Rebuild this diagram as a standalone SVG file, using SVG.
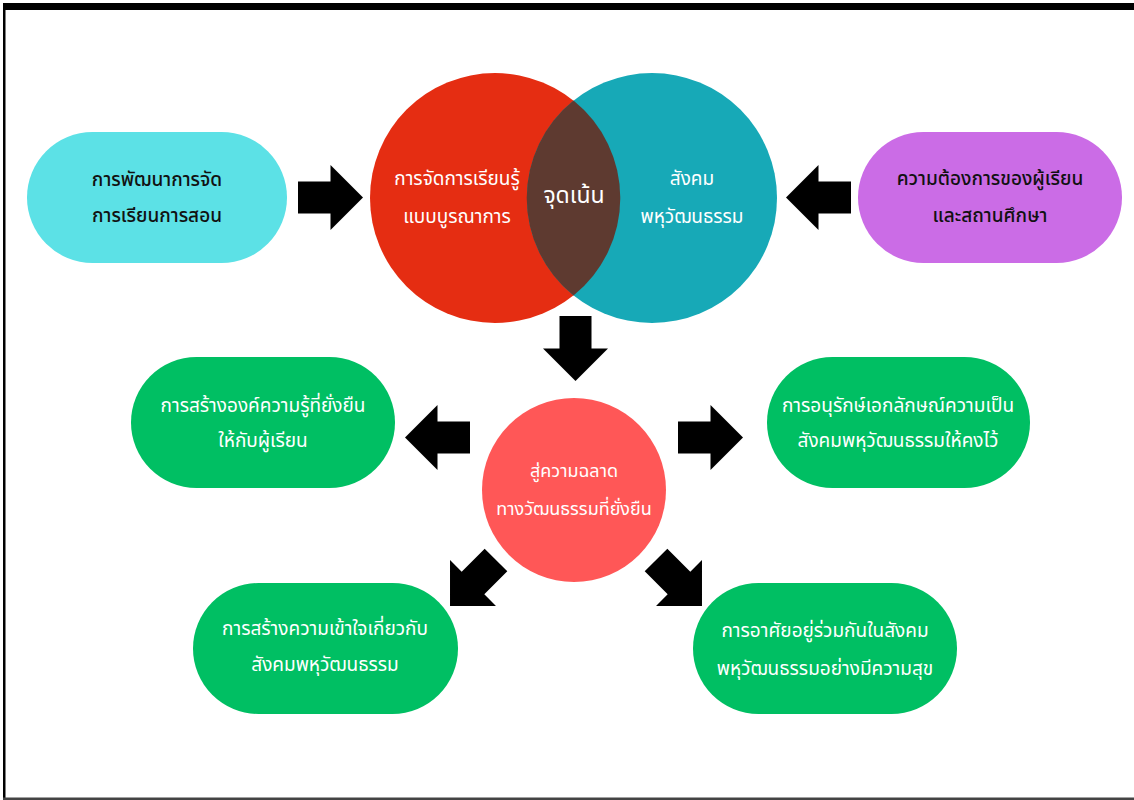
<svg xmlns="http://www.w3.org/2000/svg" width="1134" height="800" viewBox="0 0 1134 800">
<style>
  .t { font-family: "Noto Sans Thai", "Tahoma", "Loma", "Garuda", "DejaVu Sans", "Noto Sans", sans-serif; font-size: 19px; text-anchor: middle; }
  .dark { fill: #111111; font-weight: 500; }
  .light { fill: #ffffff; }
  .arrow { fill: #000000; }
  .green { fill: #00bf63; }
</style>
<defs>
  <path id="arr" d="M -32.5 -16 L 0 -16 L 0 -32.5 L 32.5 0 L 0 32.5 L 0 16 L -32.5 16 Z"/>
</defs>
<rect x="0" y="0" width="1134" height="800" fill="#ffffff"/>
<g id="frame">
  <rect x="3" y="3" width="1131" height="7" fill="#000000"/>
  <rect x="3" y="3" width="2.5" height="797" fill="#000000"/>
  <rect x="3" y="797.5" width="1131" height="2.5" fill="#444444"/>
</g>
<g id="connectors">
  <use href="#arr" class="arrow" transform="translate(330.5,197.5)"/>
  <use href="#arr" class="arrow" transform="translate(818.5,197.5) rotate(180)"/>
  <use href="#arr" class="arrow" transform="translate(575.5,348.5) rotate(90)"/>
  <use href="#arr" class="arrow" transform="translate(437.5,437.5) rotate(180)"/>
  <use href="#arr" class="arrow" transform="translate(710.5,437.5)"/>
  <use href="#arr" class="arrow" transform="translate(473,583) rotate(135)"/>
  <use href="#arr" class="arrow" transform="translate(679,583) rotate(45)"/>
</g>
<g id="node-teaching">
  <rect x="27" y="132" width="260" height="131" rx="65.5" fill="#5ce1e6"/>
  <text class="t dark" x="157" y="186">การพัฒนาการจัด</text>
  <text class="t dark" x="157" y="222">การเรียนการสอน</text>
</g>
<g id="node-venn">
  <circle cx="495" cy="198" r="125" fill="#e52d12"/>
  <circle cx="652" cy="198" r="125" fill="#17a9b7"/>
  <path d="M 573.5 100.5 A 125 125 0 0 1 573.5 295.5 A 125 125 0 0 1 573.5 100.5 Z" fill="#5e3a30"/>
  <text class="t light" x="457" y="185">การจัดการเรียนรู้</text>
  <text class="t light" x="457" y="223">แบบบูรณาการ</text>
  <text class="t light" x="574" y="203" style="font-size:23px">จุดเน้น</text>
  <text class="t light" x="692" y="185">สังคม</text>
  <text class="t light" x="692" y="223">พหุวัฒนธรรม</text>
</g>
<g id="node-needs">
  <rect x="858" y="132" width="264" height="131" rx="65.5" fill="#cb6ce6"/>
  <text class="t dark" x="990" y="185">ความต้องการของผู้เรียน</text>
  <text class="t dark" x="990" y="222">และสถานศึกษา</text>
</g>
<g id="node-center">
  <circle cx="574" cy="490" r="92" fill="#ff5757"/>
  <text class="t light" x="574" y="477" style="font-size:18px">สู่ความฉลาด</text>
  <text class="t light" x="574" y="515" style="font-size:18px">ทางวัฒนธรรมที่ยั่งยืน</text>
</g>
<g id="node-knowledge">
  <rect x="131" y="357" width="264" height="131" rx="65.5" class="green"/>
  <text class="t light" x="263" y="412">การสร้างองค์ความรู้ที่ยั่งยืน</text>
  <text class="t light" x="263" y="447">ให้กับผู้เรียน</text>
</g>
<g id="node-preserve">
  <rect x="767" y="357" width="263" height="131" rx="65.5" class="green"/>
  <text class="t light" x="898" y="412">การอนุรักษ์เอกลักษณ์ความเป็น</text>
  <text class="t light" x="898" y="447">สังคมพหุวัฒนธรรมให้คงไว้</text>
</g>
<g id="node-understanding">
  <rect x="193" y="583" width="265" height="131" rx="65.5" class="green"/>
  <text class="t light" x="325" y="635">การสร้างความเข้าใจเกี่ยวกับ</text>
  <text class="t light" x="325" y="671">สังคมพหุวัฒนธรรม</text>
</g>
<g id="node-coexist">
  <rect x="693" y="583" width="264" height="131" rx="65.5" class="green"/>
  <text class="t light" x="825" y="637">การอาศัยอยู่ร่วมกันในสังคม</text>
  <text class="t light" x="825" y="675">พหุวัฒนธรรมอย่างมีความสุข</text>
</g>
</svg>
